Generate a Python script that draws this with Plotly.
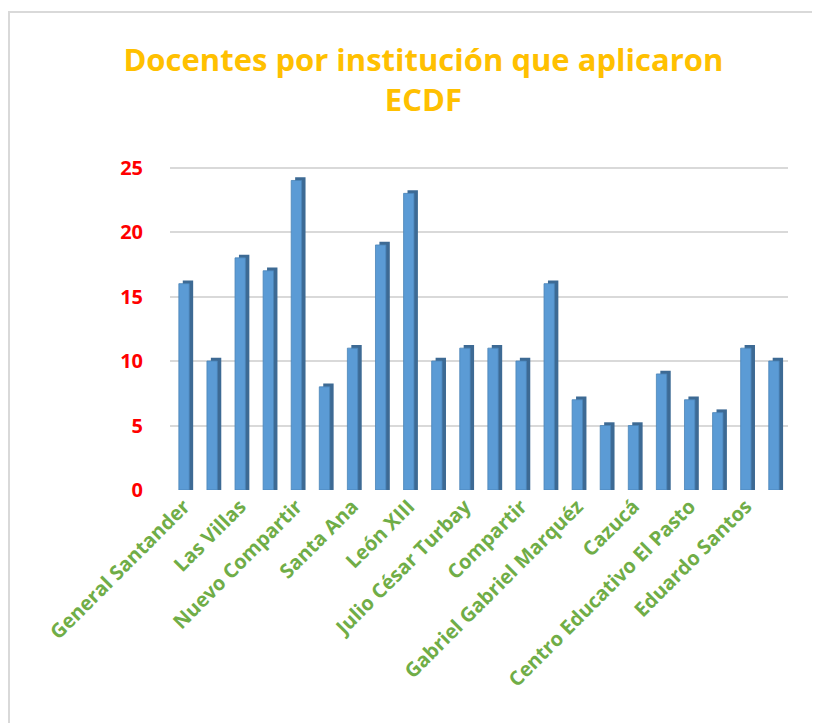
import plotly.graph_objects as go

# Data: 22 institutions, only every other name is printed on the axis
docentes = [16, 10, 18, 17, 24, 8, 11, 19, 23, 10, 11,
            11, 10, 16, 7, 5, 5, 9, 7, 6, 11, 10]
etiquetas = ['General Santander', 'Las Villas', 'Nuevo Compartir', 'Santa Ana',
             'León XIII', 'Julio César Turbay', 'Compartir',
             'Gabriel Gabriel Marquéz', 'Cazucá', 'Centro Educativo El Pasto',
             'Eduardo Santos']
y_ticks = [0, 5, 10, 15, 20, 25]

posiciones = list(range(len(docentes)))
tick_pos = posiciones[::2]

# fake 3D depth: a darker copy a bit to the right and up, behind the bars
ancho = 0.37
prof_x, prof_y = 0.14, 0.25

fig = go.Figure()
fig.add_trace(go.Bar(x=posiciones, y=[v + prof_y for v in docentes],
                     width=ancho, offset=-ancho / 2 + prof_x,
                     marker=dict(color='#3D6A94', line=dict(width=0))))
fig.add_trace(go.Bar(x=posiciones, y=docentes, width=ancho, offset=-ancho / 2,
                     marker=dict(color='#5B9BD5', line=dict(color='#4A84B8', width=0.8))))

font_name = 'Open Sans'
fig.update_layout(
    width=820, height=723,
    margin=dict(l=162, r=40, t=157, b=241),
    paper_bgcolor='white', plot_bgcolor='white',
    showlegend=False, barmode='overlay',
    font=dict(family=font_name),
    title=dict(text='Docentes por institución que aplicaron<br>ECDF',
               x=0.41, xref='paper', xanchor='center',
               y=0.913, yanchor='middle',
               font=dict(size=31, color='#FFC000', family=font_name, weight='bold')),
)
fig.update_xaxes(range=[-0.5, len(docentes) - 0.5], tickmode='array',
                 tickvals=tick_pos, ticktext=etiquetas, tickangle=-45,
                 tickfont=dict(size=20, color='#70AD47', weight='bold'),
                 showgrid=False, zeroline=False, showline=False, ticks='')
fig.update_yaxes(range=[0, 25.2], tickmode='array', tickvals=y_ticks,
                 tickfont=dict(size=20, color='#FF0000', weight='bold'),
                 showgrid=True, gridcolor='#D9D9D9', gridwidth=2,
                 zeroline=False, showline=False, ticks='', ticklabelstandoff=26)

# light frame around the chart area, like the original chart object
fig.add_shape(type='rect', xref='paper', yref='paper',
              x0=(1 - 162) / 618, x1=1.2, y0=-0.8, y1=(482 - 4) / 325,
              line=dict(color='#D9D9D9', width=2), layer='below')

fig.write_html('out.html')
